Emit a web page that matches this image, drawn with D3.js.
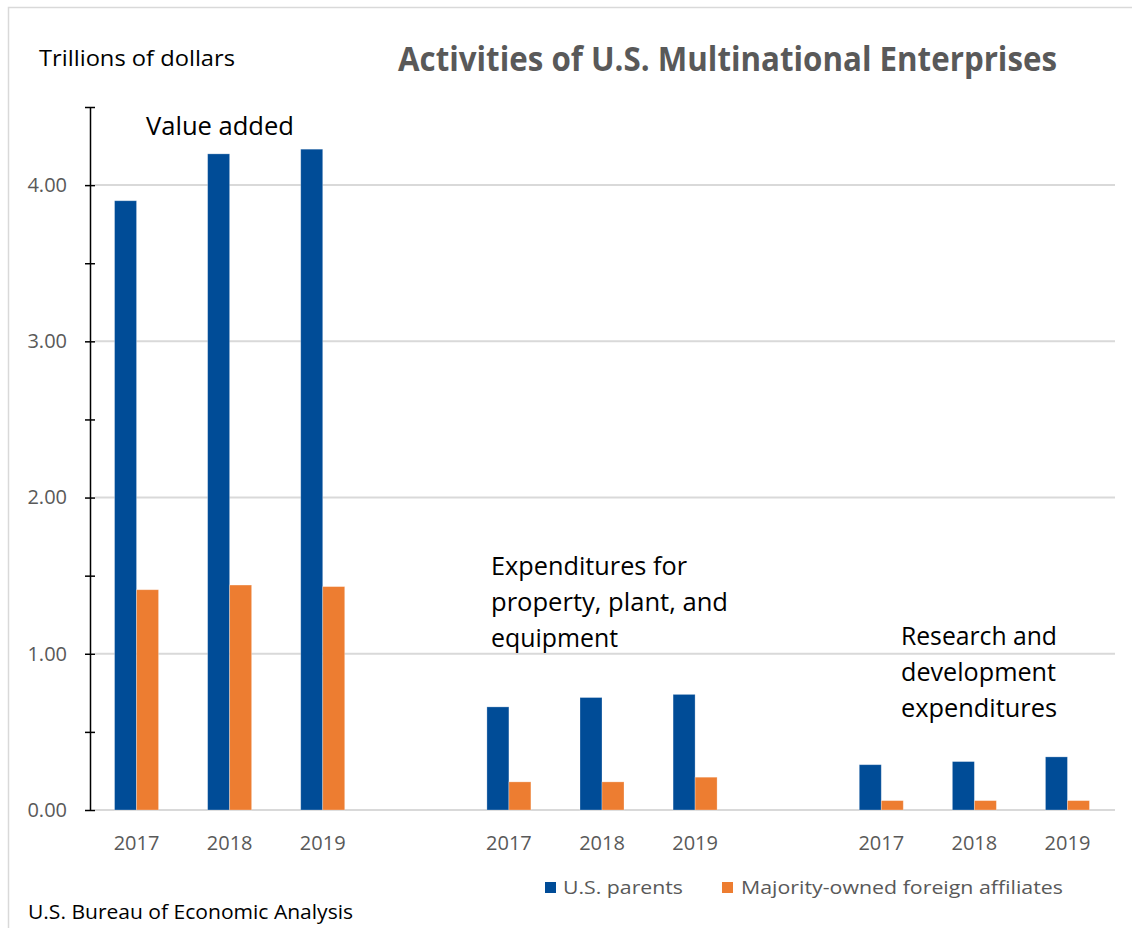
<!DOCTYPE html>
<html>
<head>
<meta charset="utf-8">
<script src="https://cdn.jsdelivr.net/npm/d3@7"></script>
<style>
  html, body { margin: 0; padding: 0; background: #fff; }
  svg { display: block; }
</style>
</head>
<body>
<svg id="chart" width="1132" height="928"></svg>
<script>
// ---------------- data ----------------
const groupNames = [
  ["Value added"],
  ["Expenditures for", "property, plant, and", "equipment"],
  ["Research and", "development", "expenditures"]
];
const years = ["2017", "2018", "2019"];
const usParents  = [3.90, 4.20, 4.23, 0.66, 0.72, 0.74, 0.29, 0.31, 0.34];
const affiliates = [1.41, 1.44, 1.43, 0.18, 0.18, 0.21, 0.06, 0.06, 0.06];
const seriesNames = ["U.S. parents", "Majority-owned foreign affiliates"];
const seriesColors = ["#004C97", "#ED7D31"];
const yTickValues = [0, 0.5, 1, 1.5, 2, 2.5, 3, 3.5, 4, 4.5];
const gridValues = [0, 1, 2, 3, 4];
const titleText = "Activities of U.S. Multinational Enterprises";
const yUnitText = "Trillions of dollars";
const sourceText = "U.S. Bureau of Economic Analysis";

// ---------------- build categories ----------------
const categories = [];   // {key, label}
const rows = [];
groupNames.forEach((g, gi) => {
  if (gi > 0) categories.push({ key: "gap" + gi, label: "" });
  years.forEach((yr, yi) => {
    const idx = gi * years.length + yi;
    const key = gi + "-" + yr;
    categories.push({ key, label: yr });
    rows.push({ key, gi, values: [usParents[idx], affiliates[idx]] });
  });
});

const svg = d3.select("#chart");
const W = 1132, H = 928;
const plot = { left: 90, right: 1114, top: 107, bottom: 810 };

// chart frame
svg.append("rect")
  .attr("x", 8.5).attr("y", 7.5)
  .attr("width", W + 50).attr("height", H + 50)
  .attr("fill", "none").attr("stroke", "#d9d9d9").attr("stroke-width", 1.5);

const x = d3.scaleBand()
  .domain(categories.map(c => c.key))
  .range([plot.left, plot.right])
  .paddingInner(0).paddingOuter(0);

const barW = 22;
const x1 = d3.scaleBand()
  .domain([0, 1])
  .range([0, barW * 2]);

const y = d3.scaleLinear().domain([0, 4.5]).range([plot.bottom, plot.top]);

// gridlines
svg.append("g").selectAll("line")
  .data(gridValues).join("line")
  .attr("x1", plot.left + 5).attr("x2", 1115)
  .attr("y1", d => y(d)).attr("y2", d => y(d))
  .attr("stroke", "#d9d9d9").attr("stroke-width", 2);

// bars
const bandOffset = (x.bandwidth() - barW * 2) / 2;
const barG = svg.append("g");
rows.forEach(r => {
  barG.selectAll(null)
    .data(r.values.map((v, si) => ({ v, si })))
    .join("rect")
    .attr("x", d => x(r.key) + bandOffset + x1(d.si))
    .attr("width", x1.bandwidth())
    .attr("y", d => y(d.v))
    .attr("height", d => y(0) - y(d.v))
    .attr("fill", d => seriesColors[d.si])
    .attr("stroke", "#ffffff").attr("stroke-opacity", 0.35).attr("stroke-width", 0.8);
});

// y axis (crossing ticks)
const fmt = d3.format(".2f");
const yAxisL = d3.axisLeft(y).tickValues(yTickValues).tickSizeInner(5).tickSizeOuter(0)
  .tickPadding(18)
  .tickFormat(d => Number.isInteger(d) ? fmt(d) : "");
const gy = svg.append("g").attr("transform", `translate(${plot.left},0)`).call(yAxisL);
gy.select(".domain").attr("stroke", "#000").attr("stroke-width", 1.5);
gy.selectAll(".tick line").attr("stroke", "#000").attr("stroke-width", 1.5);
gy.selectAll(".tick text")
  .attr("fill", "#595959")
  .style("font-family", "'Open Sans', sans-serif").style("font-size", "20px");

const yAxisR = d3.axisRight(y).tickValues(yTickValues).tickSizeInner(5).tickSizeOuter(0)
  .tickFormat("");
const gy2 = svg.append("g").attr("transform", `translate(${plot.left},0)`).call(yAxisR);
gy2.select(".domain").remove();
gy2.selectAll(".tick line").attr("stroke", "#000").attr("stroke-width", 1.5);

// x axis labels
const labelOf = new Map(categories.map(c => [c.key, c.label]));
const xAxis = d3.axisBottom(x).tickSize(0).tickPadding(26).tickFormat(k => labelOf.get(k));
const gx = svg.append("g").attr("transform", `translate(0,${plot.bottom})`).call(xAxis);
gx.select(".domain").remove();
gx.selectAll(".tick text")
  .attr("fill", "#595959")
  .style("font-family", "'Open Sans', sans-serif").style("font-size", "20px");

// group annotations
const annot = [
  { x: 146, y: 135, lines: groupNames[0], widths: [148] },
  { x: 491, y: 575, lines: groupNames[1], widths: [196, 237, 127] },
  { x: 901, y: 645, lines: groupNames[2], widths: [156, 155, 156] }
];
annot.forEach(a => {
  a.lines.forEach((ln, i) => {
    svg.append("text")
      .attr("x", a.x).attr("y", a.y + i * 36)
      .attr("textLength", a.widths[i]).attr("lengthAdjust", "spacingAndGlyphs")
      .style("font-family", "'Open Sans', sans-serif").style("font-size", "25px")
      .attr("fill", "#000")
      .text(ln);
  });
});

// title
svg.append("text")
  .attr("x", 398).attr("y", 71)
  .attr("textLength", 659).attr("lengthAdjust", "spacingAndGlyphs")
  .style("font-family", "'Liberation Sans Narrow', 'Open Sans', sans-serif")
  .style("font-weight", "bold").style("font-size", "34px")
  .attr("fill", "#595959")
  .text(titleText);

// unit label
svg.append("text")
  .attr("x", 39).attr("y", 66)
  .attr("textLength", 196).attr("lengthAdjust", "spacingAndGlyphs")
  .style("font-family", "'Open Sans', sans-serif").style("font-size", "22px")
  .attr("fill", "#000")
  .text(yUnitText);

// source
svg.append("text")
  .attr("x", 28).attr("y", 919)
  .attr("textLength", 325).attr("lengthAdjust", "spacingAndGlyphs")
  .style("font-family", "'Open Sans', sans-serif").style("font-size", "20px")
  .attr("fill", "#000")
  .text(sourceText);

// legend
const legendItems = [
  { sx: 545, tx: 563, tw: 120 },
  { sx: 722, tx: 741, tw: 322 }
];
const lg = svg.append("g");
legendItems.forEach((it, i) => {
  lg.append("rect")
    .attr("x", it.sx).attr("y", 882).attr("width", 11).attr("height", 11)
    .attr("fill", seriesColors[i]);
  lg.append("text")
    .attr("x", it.tx).attr("y", 894)
    .attr("textLength", it.tw).attr("lengthAdjust", "spacingAndGlyphs")
    .style("font-family", "'Open Sans', sans-serif").style("font-size", "19px")
    .attr("fill", "#595959")
    .text(seriesNames[i]);
});
</script>
</body>
</html>
